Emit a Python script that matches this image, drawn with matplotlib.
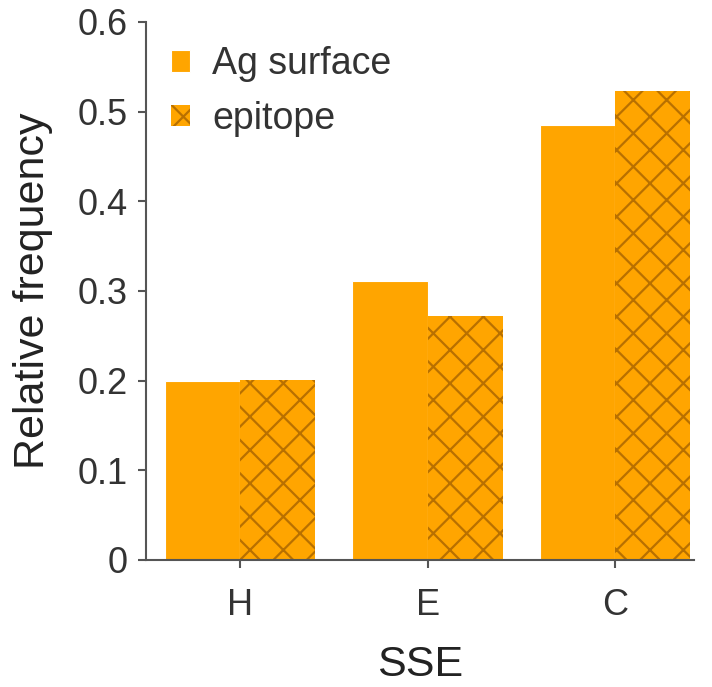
import numpy as np
import matplotlib.pyplot as plt

plt.rcParams['font.family'] = ['Liberation Sans', 'DejaVu Sans']
plt.rcParams['hatch.color'] = '#b87000'
plt.rcParams['hatch.linewidth'] = 1.6

categories = ['H', 'E', 'C']
ag_surface = [0.199, 0.311, 0.485]
epitope = [0.201, 0.272, 0.523]

x = np.arange(len(categories))
w = 0.4

fig, ax = plt.subplots(figsize=(7.12, 6.87), dpi=100)
fig.subplots_adjust(left=0.205, right=0.975, bottom=0.185, top=0.968)

ax.bar(x - w / 2, ag_surface, w, color='#ffa500', edgecolor='white', linewidth=0.8,
       label='Ag surface')
ax.bar(x + w / 2, epitope, w, color='#ffa500', edgecolor='#b87000', linewidth=0,
       hatch='x', label='epitope')

ax.set_xlim(-0.5, 2.42)
ax.set_ylim(0, 0.6)
ax.set_yticks([0, 0.1, 0.2, 0.3, 0.4, 0.5, 0.6])
ax.set_yticklabels(['0', '0.1', '0.2', '0.3', '0.4', '0.5', '0.6'])
ax.set_xticks(x)
ax.set_xticklabels(categories)

for s in ['top', 'right']:
    ax.spines[s].set_visible(False)
for s in ['left', 'bottom']:
    ax.spines[s].set_color('#555555')
    ax.spines[s].set_linewidth(1.5)
ax.tick_params(axis='both', labelsize=26, colors='#333333', length=6, width=1.5,
               color='#555555')
ax.tick_params(axis='x', pad=14)
ax.tick_params(axis='y', pad=7)

ax.set_xlabel('SSE', fontsize=31, color='#222222', labelpad=16)
ax.set_ylabel('Relative frequency', fontsize=31, color='#222222', labelpad=18)

leg = ax.legend(loc='upper left', frameon=False, fontsize=27, handlelength=0.5,
                handleheight=0.5, handletextpad=0.6, labelspacing=0.5,
                borderpad=0, borderaxespad=0, bbox_to_anchor=(0.046, 0.955),
                labelcolor='#333333')

fig.savefig('out.png', dpi=100)
